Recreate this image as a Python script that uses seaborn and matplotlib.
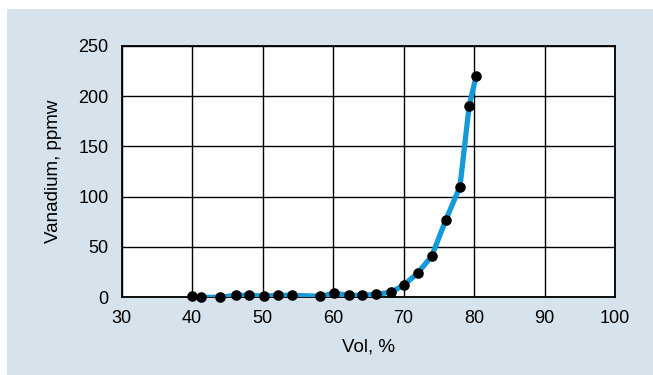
import matplotlib
matplotlib.use("Agg")
import matplotlib.pyplot as plt
import seaborn as sns
import pandas as pd
from matplotlib.patches import Rectangle

# Data
vol_pct = [40, 41.2, 44, 46.2, 48.1, 50.2, 52.2, 54.1, 58.2, 60.1, 62.2,
           64.1, 66.1, 68.2, 70, 72, 74, 76, 78, 79.3, 80.3]
vanadium_ppmw = [1, 0, 0, 2, 2, 1, 2, 2, 1, 4, 2,
                 2, 3, 5, 12, 24, 41, 77, 110, 190, 220]
x_ticks = [30, 40, 50, 60, 70, 80, 90, 100]
y_ticks = [0, 50, 100, 150, 200, 250]

df = pd.DataFrame({"vol": vol_pct, "v": vanadium_ppmw})

sns.set_theme(style="white")
plt.rcParams["font.family"] = ["Liberation Sans", "DejaVu Sans"]

W, H = 653, 375
fig = plt.figure(figsize=(W / 100, H / 100), dpi=100)
fig.patch.set_facecolor("white")
bg = "#d7e3ec"
fig.patches.append(Rectangle((7 / W, 0), 1 - 7 / W, 1 - 9 / H,
                             transform=fig.transFigure, facecolor=bg,
                             edgecolor="none", zorder=-10))

left, right, top, bottom = 121.7, 615, 45.7, 297.3
ax = fig.add_axes([left / W, 1 - bottom / H, (right - left) / W, (bottom - top) / H])
ax.set_zorder(1)
ax.set_facecolor("white")

sns.lineplot(data=df, x="vol", y="v", ax=ax, color="#159ad8", linewidth=3.8,
             solid_capstyle="round", solid_joinstyle="round", zorder=3)
sns.scatterplot(data=df, x="vol", y="v", ax=ax, color="black", s=58,
                edgecolor="black", linewidth=0, zorder=4, clip_on=False)

ax.set_xlim(30, 100)
ax.set_ylim(0, 250)
ax.set_xticks(x_ticks)
ax.set_yticks(y_ticks)
ax.set_xticklabels([str(t) for t in x_ticks])
ax.set_yticklabels([str(t) for t in y_ticks])
ax.grid(True, color="black", linewidth=1.0)
ax.set_axisbelow(True)
for s in ax.spines.values():
    s.set_visible(True)
    s.set_color("black")
    s.set_linewidth(1.3)
ax.tick_params(axis="both", length=0, labelsize=13, colors="black")
ax.tick_params(axis="x", pad=9.5)
ax.tick_params(axis="y", pad=9.5)
ax.set_xlabel("Vol, %", fontsize=13.5, color="black", labelpad=8)
ax.set_ylabel("Vanadium, ppmw", fontsize=13.5, color="black", labelpad=12)

fig.savefig("out.png", dpi=100, facecolor=fig.get_facecolor())
